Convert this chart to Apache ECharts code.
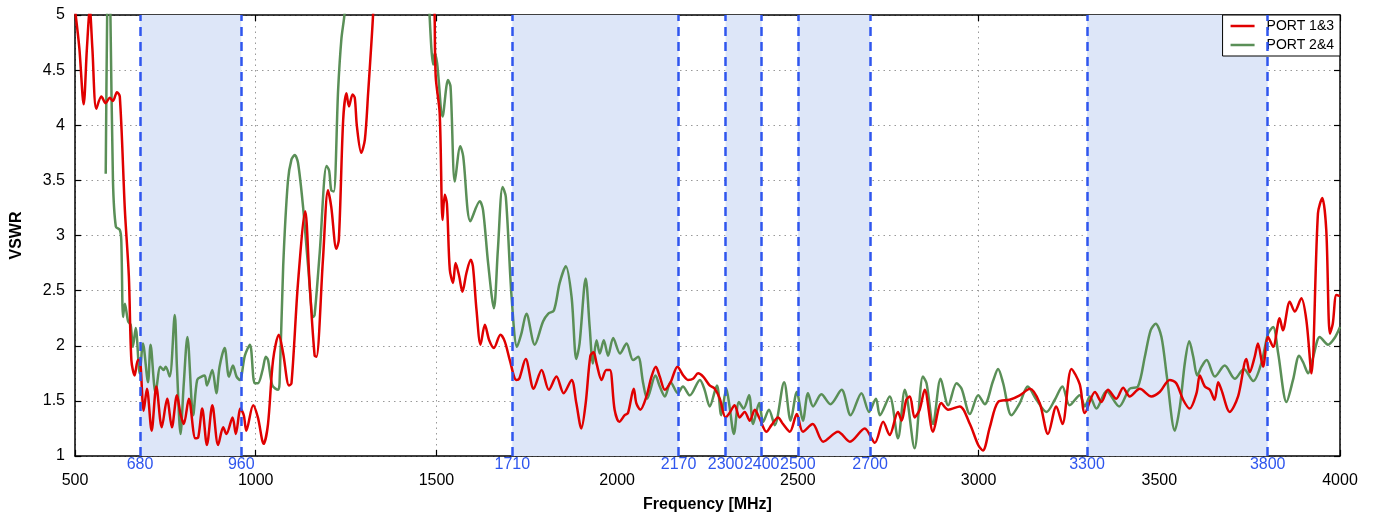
<!DOCTYPE html>
<html>
<head>
<meta charset="utf-8">
<script src="https://cdn.jsdelivr.net/npm/echarts@6/dist/echarts.min.js"></script>
<style>
html,body{margin:0;padding:0;background:#fff;}
#chart{width:1377px;height:518px;}
</style>
</head>
<body>
<div id="chart"></div>
<script>
// Frequency bands (MHz)
const bands = [[680,960],[1710,2170],[2300,2400],[2500,2700],[3300,3800]];
const xTicks = [500,1000,1500,2000,2500,3000,3500,4000];
const yTicks = [1,1.5,2,2.5,3,3.5,4,4.5,5];

// PORT 1&3 : [MHz, VSWR]
const port13 = [[500,5.05],[512,4.7],[524,4.19],[533,4.7],[541,5.05],[548,4.7],[559,4.15],[573,4.26],[585,4.2],[596,4.25],[605,4.22],[616,4.30],[624,4.26],[638,3.23],[649,2.63],[656,1.87],[665,1.73],[674,1.87],[679,1.87],[690,1.41],[699,1.61],[712,1.23],[725,1.63],[740,1.26],[755,1.52],[768,1.26],[782,1.55],[792,1.38],[801,1.29],[815,1.52],[833,1.16],[841,1.17],[852,1.43],[865,1.10],[880,1.46],[896,1.10],[910,1.26],[919,1.20],[936,1.35],[945,1.20],[958,1.43],[967,1.37],[974,1.23],[993,1.46],[1006,1.35],[1022,1.11],[1034,1.29],[1048,1.87],[1064,2.10],[1076,1.93],[1092,1.64],[1099,1.66],[1117,2.57],[1137,3.22],[1149,2.57],[1163,1.91],[1168,1.90],[1186,2.78],[1200,3.41],[1209,3.26],[1223,2.88],[1230,2.96],[1242,4.05],[1251,4.29],[1258,4.17],[1268,4.28],[1274,4.25],[1280,3.99],[1292,3.75],[1302,3.87],[1311,4.29],[1325,5.02],[1335,5.8],[1490,5.8],[1495,5.0],[1498,4.44],[1509,4.11],[1517,3.14],[1523,3.37],[1529,3.29],[1537,2.69],[1546,2.57],[1553,2.75],[1563,2.63],[1572,2.49],[1583,2.66],[1595,2.78],[1601,2.72],[1611,2.32],[1622,2.01],[1634,2.19],[1646,2.05],[1659,1.98],[1677,2.10],[1689,2.04],[1703,1.87],[1721,1.69],[1729,1.70],[1747,1.88],[1769,1.61],[1791,1.78],[1811,1.60],[1832,1.72],[1852,1.57],[1874,1.69],[1887,1.48],[1901,1.25],[1913,1.48],[1926,1.91],[1935,1.94],[1943,1.84],[1957,1.69],[1970,1.78],[1980,1.78],[1993,1.42],[2006,1.31],[2021,1.37],[2030,1.39],[2046,1.61],[2053,1.48],[2064,1.42],[2081,1.54],[2095,1.72],[2107,1.81],[2118,1.72],[2132,1.60],[2148,1.67],[2167,1.81],[2183,1.73],[2196,1.69],[2210,1.70],[2224,1.75],[2238,1.72],[2256,1.64],[2270,1.61],[2284,1.52],[2300,1.35],[2311,1.39],[2325,1.46],[2339,1.35],[2353,1.40],[2367,1.32],[2381,1.42],[2394,1.34],[2413,1.22],[2427,1.28],[2445,1.35],[2459,1.29],[2478,1.22],[2497,1.38],[2514,1.22],[2541,1.29],[2570,1.13],[2611,1.22],[2644,1.13],[2685,1.25],[2713,1.12],[2736,1.31],[2754,1.19],[2777,1.40],[2787,1.32],[2800,1.51],[2810,1.54],[2823,1.35],[2837,1.42],[2851,1.60],[2874,1.22],[2897,1.48],[2916,1.42],[2948,1.45],[2976,1.29],[2999,1.10],[3012,1.05],[3031,1.26],[3054,1.49],[3086,1.51],[3114,1.55],[3142,1.61],[3169,1.48],[3192,1.20],[3215,1.45],[3232,1.29],[3257,1.79],[3280,1.65],[3294,1.39],[3322,1.58],[3340,1.49],[3358,1.60],[3381,1.52],[3400,1.62],[3418,1.54],[3446,1.61],[3478,1.54],[3501,1.58],[3529,1.69],[3547,1.66],[3566,1.51],[3584,1.43],[3603,1.57],[3612,1.73],[3626,1.63],[3640,1.60],[3653,1.51],[3663,1.67],[3672,1.60],[3695,1.40],[3718,1.54],[3741,1.88],[3750,1.76],[3764,1.90],[3773,2.02],[3787,1.81],[3801,2.08],[3815,1.99],[3833,2.25],[3842,2.14],[3861,2.40],[3875,2.31],[3893,2.43],[3907,2.23],[3921,1.75],[3939,3.20],[3951,3.34],[3962,3.05],[3972,2.11],[3980,2.20],[3990,2.46],[4000,2.45]];

// PORT 2&4 : [MHz, VSWR]
const port24 = [[585,3.56],[589,5.0],[593,5.6],[598,5.0],[605,3.50],[613,3.08],[624,3.05],[628,2.96],[633,2.26],[638,2.38],[647,2.22],[654,2.19],[660,1.99],[668,2.16],[679,1.75],[688,2.02],[702,1.67],[709,2.01],[723,1.57],[736,1.81],[745,1.78],[751,1.81],[762,1.72],[776,2.28],[782,1.81],[792,1.20],[801,1.66],[811,2.08],[827,1.37],[838,1.69],[850,1.72],[859,1.73],[865,1.64],[880,1.78],[891,1.57],[900,1.81],[914,1.98],[926,1.72],[937,1.82],[947,1.72],[956,1.69],[970,1.91],[984,2.01],[997,1.66],[1006,1.66],[1019,1.78],[1028,1.90],[1034,1.87],[1046,1.64],[1062,1.60],[1066,1.66],[1076,2.72],[1089,3.49],[1099,3.69],[1108,3.73],[1117,3.66],[1131,3.26],[1145,2.72],[1159,2.26],[1163,2.28],[1177,2.84],[1196,3.63],[1203,3.59],[1209,3.41],[1216,3.40],[1228,4.32],[1237,4.78],[1246,5.02],[1255,5.6],[1475,5.6],[1481,5.0],[1491,4.55],[1495,4.65],[1502,4.56],[1517,4.08],[1532,4.41],[1539,4.35],[1551,3.49],[1566,3.81],[1574,3.72],[1594,3.13],[1620,3.31],[1629,3.23],[1643,2.75],[1659,2.34],[1670,2.87],[1683,3.44],[1692,3.35],[1708,2.44],[1723,1.99],[1735,2.11],[1749,2.29],[1772,2.01],[1795,2.22],[1809,2.29],[1825,2.32],[1841,2.57],[1858,2.72],[1874,2.44],[1887,1.88],[1896,2.02],[1913,2.61],[1924,2.17],[1933,1.84],[1943,2.05],[1952,1.93],[1963,2.05],[1975,1.91],[1989,2.07],[2008,1.93],[2026,2.02],[2044,1.87],[2058,1.90],[2072,1.66],[2083,1.52],[2106,1.73],[2118,1.63],[2132,1.54],[2148,1.67],[2168,1.57],[2182,1.63],[2201,1.55],[2229,1.69],[2242,1.60],[2256,1.45],[2276,1.64],[2288,1.37],[2302,1.61],[2311,1.45],[2323,1.20],[2337,1.49],[2350,1.43],[2365,1.55],[2376,1.29],[2393,1.48],[2404,1.31],[2420,1.42],[2436,1.28],[2462,1.67],[2480,1.32],[2497,1.58],[2514,1.32],[2528,1.57],[2542,1.45],[2565,1.56],[2590,1.47],[2621,1.60],[2646,1.37],[2676,1.57],[2697,1.40],[2716,1.52],[2727,1.37],[2754,1.54],[2777,1.16],[2796,1.60],[2803,1.51],[2823,1.07],[2846,1.72],[2856,1.66],[2874,1.29],[2895,1.70],[2916,1.46],[2939,1.66],[2953,1.61],[2976,1.38],[2999,1.55],[3017,1.47],[3040,1.68],[3054,1.79],[3068,1.66],[3091,1.37],[3114,1.48],[3136,1.63],[3160,1.51],[3188,1.40],[3211,1.51],[3232,1.63],[3252,1.46],[3280,1.55],[3294,1.45],[3308,1.54],[3326,1.43],[3354,1.59],[3389,1.45],[3418,1.61],[3441,1.63],[3460,1.90],[3476,2.14],[3490,2.20],[3506,2.08],[3521,1.72],[3543,1.23],[3557,1.45],[3571,1.85],[3583,2.04],[3594,1.90],[3605,1.73],[3617,1.81],[3631,1.87],[3654,1.72],[3681,1.82],[3709,1.70],[3734,1.79],[3760,1.68],[3783,1.85],[3801,2.11],[3815,2.17],[3829,1.93],[3852,1.49],[3870,1.69],[3887,1.91],[3898,1.85],[3912,1.75],[3926,1.90],[3944,2.08],[3967,2.01],[3985,2.07],[4000,2.17]];

const FONT = '"Liberation Sans", Arial, sans-serif';
const BLUE = '#2f56ee';

const bandEdges = [];
bands.forEach(b => { bandEdges.push(b[0]); bandEdges.push(b[1]); });

const chart = echarts.init(document.getElementById('chart'), null, {renderer:'canvas'});
chart.setOption({
  animation: false,
  backgroundColor: '#fff',
  textStyle: { fontFamily: FONT },
  grid: { left: 75, right: 37, top: 15, bottom: 62, containLabel: false },
  legend: {
    right: 37, top: 15, orient: 'vertical',
    backgroundColor: '#fff', borderColor: '#000', borderWidth: 1, borderRadius: 0,
    padding: [4, 6, 4, 8], itemGap: 5, itemWidth: 24, itemHeight: 2.5, icon: 'rect',
    textStyle: { fontFamily: FONT, fontSize: 14, color: '#000', padding: [0,0,0,7] },
    data: ['PORT 1&3', 'PORT 2&4']
  },
  xAxis: [{
    type: 'value', min: xTicks[0], max: xTicks[xTicks.length-1], interval: 500,
    position: 'bottom',
    name: 'Frequency [MHz]', nameLocation: 'middle', nameGap: 41,
    nameTextStyle: { fontFamily: FONT, fontSize: 16, fontWeight: 'bold', color: '#000' },
    axisLine: { show: true, lineStyle: { color: '#000', width: 1.5 } },
    axisTick: { show: true, inside: true, length: 6, lineStyle: { color: '#000', width: 1.2 } },
    axisLabel: { margin: 17, fontSize: 16, color: '#000', fontFamily: FONT, formatter: v => String(v) },
    splitLine: { show: true, lineStyle: { color: '#999', type: [1.5, 4], width: 1 } }
  }, {
    type: 'value', min: xTicks[0], max: xTicks[xTicks.length-1], interval: 500,
    position: 'top',
    axisLine: { show: true, lineStyle: { color: '#000', width: 1.5 } },
    axisTick: { show: true, inside: true, length: 6, lineStyle: { color: '#000', width: 1.2 } },
    axisLabel: { show: false }, splitLine: { show: false }
  }],
  yAxis: [{
    type: 'value', min: yTicks[0], max: yTicks[yTicks.length-1], interval: 0.5,
    name: 'VSWR', nameLocation: 'middle', nameGap: 50,
    nameTextStyle: { fontFamily: FONT, fontSize: 16, fontWeight: 'bold', color: '#000' },
    axisLine: { show: true, lineStyle: { color: '#000', width: 1.5 } },
    axisTick: { show: true, inside: true, length: 6, lineStyle: { color: '#000', width: 1.2 } },
    axisLabel: { margin: 10, fontSize: 16, color: '#000', fontFamily: FONT, formatter: v => String(v) },
    splitLine: { show: true, lineStyle: { color: '#999', type: [1.5, 4], width: 1 } }
  }, {
    type: 'value', min: yTicks[0], max: yTicks[yTicks.length-1], interval: 0.5,
    position: 'right',
    axisLine: { show: true, lineStyle: { color: '#000', width: 1.5 } },
    axisTick: { show: true, inside: true, length: 6, lineStyle: { color: '#000', width: 1.2 } },
    axisLabel: { show: false }, splitLine: { show: false }
  }],
  series: [{
    name: 'PORT 1&3', type: 'line', data: port13, showSymbol: false, smooth: 0.3,
    clip: true, z: 3,
    lineStyle: { color: '#e00000', width: 2.5 }, itemStyle: { color: '#e00000' },
    markArea: {
      silent: true,
      itemStyle: { color: '#dde6f8' },
      data: bands.map(b => [{ xAxis: b[0] }, { xAxis: b[1] }])
    },
    markLine: {
      silent: true, symbol: 'none', animation: false,
      lineStyle: { color: BLUE, width: 2.5, type: [9, 6] },
      label: { show: true, position: 'start', distance: 1, color: BLUE, fontSize: 16, fontFamily: FONT,
               formatter: p => String(p.value) },
      data: bandEdges.map(v => ({ xAxis: v }))
    }
  }, {
    name: 'PORT 2&4', type: 'line', data: port24, showSymbol: false, smooth: 0.3,
    clip: true, z: 2,
    lineStyle: { color: '#5a8f57', width: 2.5 }, itemStyle: { color: '#5a8f57' }
  }]
});
</script>
</body>
</html>
